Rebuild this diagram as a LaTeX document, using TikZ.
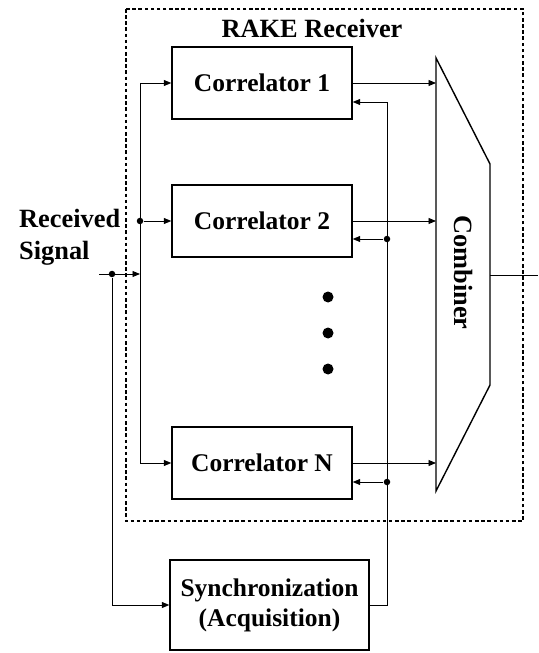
\documentclass[tikz,border=0pt]{standalone}
\usepackage{fontspec}
\setmainfont{Liberation Serif}
\usetikzlibrary{arrows.meta}
\begin{document}
\begin{tikzpicture}[
thin,>={Triangle[length=1.5mm,width=1.2mm]},
block/.style={draw,line width=0.8pt,minimum width=3.6cm,minimum height=1.44cm,font=\fontsize{14.5}{17}\selectfont\bfseries},
wire/.style={line width=0.5pt},
junc/.style={circle,fill=black,inner sep=0pt,minimum size=1.3mm},
bigdot/.style={circle,fill=black,inner sep=0pt,minimum size=2.2mm},
lbl/.style={font=\fontsize{15}{18}\selectfont\bfseries}]
\useasboundingbox (0,0) rectangle (10.76,-13.06);

% receiver frame
\draw [dashed,line width=0.6pt,dash pattern=on 2pt off 1.5pt] (2.52,-0.18) rectangle (10.46,-10.42);
\node[lbl] (title) at (6.24,-0.56) {RAKE Receiver};

\node[block] (c1) at (5.24,-1.66) {Correlator 1};
\node[block] (c2) at (5.24,-4.42) {Correlator 2};
\node[block] (cN) at (5.24,-9.26) {Correlator N};
\node[block,minimum width=3.98cm,minimum height=1.8cm,align=center] (sync) at (5.39,-12.1) {Synchronization\\(Acquisition)};

\node[bigdot] (d1) at (6.56,-5.94) {};
\node[bigdot] (d2) at (6.56,-6.66) {};
\node[bigdot] (d3) at (6.56,-7.38) {};

% combiner
\coordinate (k1) at (8.72,-1.16);
\coordinate (k2) at (9.80,-3.28);
\coordinate (k3) at (9.80,-7.70);
\coordinate (k4) at (8.72,-9.82);
\draw [line width=0.8pt] (k1) -- (k2) -- (k3) -- (k4) -- cycle;
\node[lbl,rotate=-90] (comb) at (9.27,-5.45) {Combiner};

% input side
\node[lbl,align=left,anchor=west] (rxlbl) at (0.26,-4.74) {Received\\Signal};
\coordinate (rx) at (1.98,-5.48);
\node[junc] (j1) at (2.24,-5.48) {};
\coordinate (j2) at (2.80,-5.48);
\coordinate (s1) at (2.80,-1.66);
\node[junc] (s2) at (2.80,-4.42) {};
\coordinate (sN) at (2.80,-9.26);

\draw [wire,->] (rx) -- (j2);
\draw [wire] (s1) -- (sN);
\draw [wire,->] (s1) -- (c1);
\draw [wire,->] (s2) -- (c2);
\draw [wire,->] (sN) -- (cN);
\draw [wire,->] (j1) |- (sync.west);

% correlator outputs
\draw [wire,->] (c1) -- (c1 -| k1);
\draw [wire,->] (c2) -- (c2 -| k1);
\draw [wire,->] (cN) -- (cN -| k1);
\coordinate (out) at (10.76,-5.5);
\draw [wire] (out -| k2) -- (out);

% timing feedback
\coordinate (f1) at (7.74,-2.04);
\node[junc] (f2) at (7.74,-4.78) {};
\node[junc] (fN) at (7.74,-9.64) {};
\draw [wire,->] (sync.east) -| (f1) -- (f1 -| c1.east);
\draw [wire,->] (f2) -- (f2 -| c2.east);
\draw [wire,->] (fN) -- (fN -| cN.east);

\end{tikzpicture}
\end{document}
